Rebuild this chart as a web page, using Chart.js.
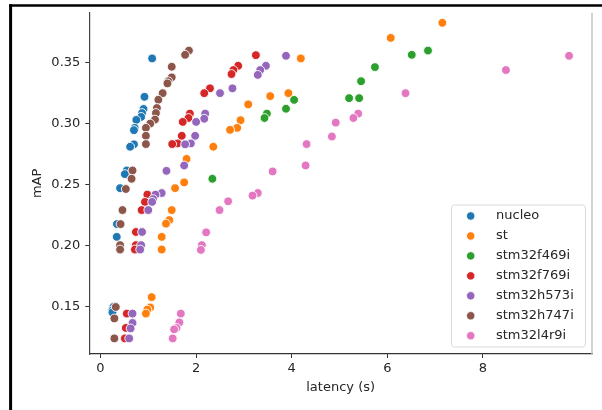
<!DOCTYPE html>
<html>
<head>
<meta charset="utf-8">
<script src="https://cdn.jsdelivr.net/npm/chart.js@4.4.0/dist/chart.umd.min.js"></script>
<style>
html,body{margin:0;padding:0;background:#fff;}
canvas{display:block;}
</style>
</head>
<body>
<canvas id="c" width="602" height="410"></canvas>
<script>
const seriesNames = ["nucleo","st","stm32f469i","stm32f769i","stm32h573i","stm32h747i","stm32l4r9i"];
const seriesColors = ["#1f77b4","#ff7f0e","#2ca02c","#d62728","#9467bd","#8c564b","#e377c2"];

const nucleoX = [1.08,0.92,0.90,0.87,0.85,0.75,0.715,0.70,0.70,0.62,0.55,0.51,0.41,0.345,0.34,0.27,0.25,0.25];
const nucleoY = [0.3535,0.322,0.312,0.3087,0.3055,0.303,0.2965,0.2946,0.283,0.281,0.2615,0.2585,0.247,0.2175,0.207,0.1494,0.1467,0.145];

const stX = [7.15,6.07,4.19,3.93,3.55,3.09,2.93,2.86,2.71,2.36,1.80,1.75,1.56,1.49,1.44,1.37,1.28,1.28,1.07,1.04,0.98,0.95];
const stY = [0.3828,0.3704,0.3535,0.325,0.3226,0.3158,0.3028,0.2965,0.2949,0.281,0.271,0.2517,0.247,0.229,0.2208,0.2178,0.207,0.1966,0.1575,0.149,0.1472,0.144];

const f469X = [6.85,6.51,5.74,5.45,5.41,5.20,4.05,3.88,3.48,3.43,2.34];
const f469Y = [0.360,0.3565,0.3464,0.3348,0.3209,0.3209,0.3195,0.3122,0.3082,0.3046,0.2547];

const f769X = [3.25,2.88,2.78,2.74,2.29,2.17,1.87,1.84,1.72,1.70,1.61,1.50,0.98,0.93,0.86,0.74,0.74,0.72,0.55,0.53,0.51];
const f769Y = [0.3562,0.3475,0.344,0.3407,0.329,0.325,0.3082,0.3046,0.3014,0.290,0.2837,0.2832,0.2417,0.2357,0.229,0.211,0.2002,0.1966,0.144,0.1322,0.1236];

const h573X = [3.88,3.46,3.34,3.29,2.76,2.50,2.19,2.17,2.00,1.98,1.89,1.77,1.75,1.38,1.28,1.15,1.10,1.08,1.00,0.87,0.85,0.83,0.67,0.67,0.63,0.60];
const h573Y = [0.3557,0.3475,0.344,0.340,0.329,0.325,0.3082,0.304,0.3014,0.290,0.2837,0.283,0.2656,0.2612,0.243,0.2417,0.238,0.2357,0.229,0.211,0.2002,0.1966,0.144,0.1363,0.1318,0.1236];

const h747X = [1.85,1.77,1.49,1.49,1.42,1.40,1.30,1.21,1.18,1.16,1.14,1.04,0.95,0.95,0.95,0.67,0.65,0.53,0.46,0.42,0.41,0.41,0.32,0.29,0.29];
const h747Y = [0.360,0.3565,0.3467,0.338,0.3348,0.333,0.325,0.3196,0.3128,0.3087,0.3033,0.300,0.2965,0.290,0.2832,0.2615,0.2547,0.2463,0.229,0.2175,0.2002,0.1966,0.1494,0.140,0.1236];

const l4r9X = [9.80,8.48,6.38,5.39,5.29,4.92,4.84,4.31,4.29,3.60,3.29,3.18,2.67,2.49,2.21,2.12,2.10,1.68,1.65,1.59,1.54,1.51];
const l4r9Y = [0.3557,0.344,0.325,0.3082,0.3046,0.3008,0.2894,0.2832,0.2656,0.2607,0.243,0.2409,0.2362,0.229,0.2107,0.2002,0.1963,0.144,0.1367,0.1322,0.131,0.1236];

const xTicks = [0,2,4,6,8];
const yTicks = [0.15,0.20,0.25,0.30,0.35];
const xTitle = "latency (s)";
const yTitle = "mAP";

const allX = [nucleoX, stX, f469X, f769X, h573X, h747X, l4r9X];
const allY = [nucleoY, stY, f469Y, f769Y, h573Y, h747Y, l4r9Y];

const FONT = "'DejaVu Sans', sans-serif";
const TXT = "#262626";

const datasets = seriesNames.map((name, i) => ({
  label: name,
  data: allX[i].map((x, j) => ({x: x, y: allY[i][j]})),
  backgroundColor: seriesColors[i],
  borderColor: "#ffffff",
  borderWidth: 0.9,
  pointRadius: 4.4,
  pointHoverRadius: 4.4,
  order: -i
}));

const decor = {
  id: "decor",
  afterDraw(chart) {
    const ctx = chart.ctx;
    const a = chart.chartArea;
    ctx.save();
    // right spine
    ctx.strokeStyle = "#c4c4c4";
    ctx.lineWidth = 1.5;
    ctx.beginPath();
    ctx.moveTo(a.right, a.top);
    ctx.lineTo(a.right, a.bottom);
    ctx.stroke();
    // outer black frame (top & left)
    ctx.strokeStyle = "#000";
    ctx.lineWidth = 2.6;
    ctx.beginPath();
    ctx.moveTo(9.2, 5.5);
    ctx.lineTo(602, 5.5);
    ctx.stroke();
    ctx.lineWidth = 3;
    ctx.beginPath();
    ctx.moveTo(10.6, 4.2);
    ctx.lineTo(10.6, 410);
    ctx.stroke();
    // axis titles
    ctx.fillStyle = TXT;
    ctx.font = "13px " + FONT;
    ctx.textAlign = "center";
    ctx.textBaseline = "middle";
    ctx.fillText(xTitle, (a.left + a.right) / 2, 387.5);
    ctx.save();
    ctx.translate(38, (a.top + a.bottom) / 2);
    ctx.rotate(-Math.PI / 2);
    ctx.fillText(yTitle, 0, 0);
    ctx.restore();
    // legend
    const lx = 451.5, ly = 205, lw = 134, lh = 142;
    ctx.fillStyle = "rgba(255,255,255,0.85)";
    ctx.strokeStyle = "#d9d9d9";
    ctx.lineWidth = 1;
    ctx.beginPath();
    if (ctx.roundRect) ctx.roundRect(lx, ly, lw, lh, 3); else ctx.rect(lx, ly, lw, lh);
    ctx.fill();
    ctx.stroke();
    chart.data.datasets.forEach((ds, i) => {
      const cy = 216 + i * 19.95;
      ctx.beginPath();
      ctx.arc(470.7, cy, 4.2, 0, Math.PI * 2);
      ctx.fillStyle = ds.backgroundColor;
      ctx.fill();
      ctx.strokeStyle = "#fff";
      ctx.lineWidth = 0.8;
      ctx.stroke();
      ctx.fillStyle = TXT;
      ctx.textAlign = "left";
      ctx.textBaseline = "middle";
      ctx.font = "13px " + FONT;
      ctx.fillText(ds.label, 496, cy);
    });
    ctx.restore();
  }
};

new Chart(document.getElementById("c"), {
  type: "scatter",
  data: { datasets: datasets },
  options: {
    responsive: false,
    animation: false,
    devicePixelRatio: 1,
    layout: { padding: { top: 10, right: 10, left: 0, bottom: 0 } },
    plugins: { legend: { display: false }, tooltip: { enabled: false } },
    scales: {
      x: {
        type: "linear",
        min: -0.234,
        max: 10.28,
        afterBuildTicks: s => { s.ticks = xTicks.map(v => ({value: v})); },
        afterFit: s => { s.height = 56; },
        grid: { drawOnChartArea: false, drawTicks: true, tickLength: 4, tickColor: "#333", tickWidth: 1 },
        border: { display: true, color: "#333", width: 1.2 },
        ticks: { color: TXT, font: { family: FONT, size: 13 }, padding: 3, maxRotation: 0, callback: v => String(v) }
      },
      y: {
        type: "linear",
        min: 0.1108,
        max: 0.391,
        afterBuildTicks: s => { s.ticks = yTicks.map(v => ({value: v})); },
        afterFit: s => { s.width = 89.3; },
        grid: { drawOnChartArea: false, drawTicks: true, tickLength: 4, tickColor: "#333", tickWidth: 1 },
        border: { display: true, color: "#444", width: 1.2 },
        ticks: { color: TXT, font: { family: FONT, size: 13 }, padding: 5, callback: v => Number(v).toFixed(2) }
      }
    }
  },
  plugins: [decor]
});
</script>
</body>
</html>
